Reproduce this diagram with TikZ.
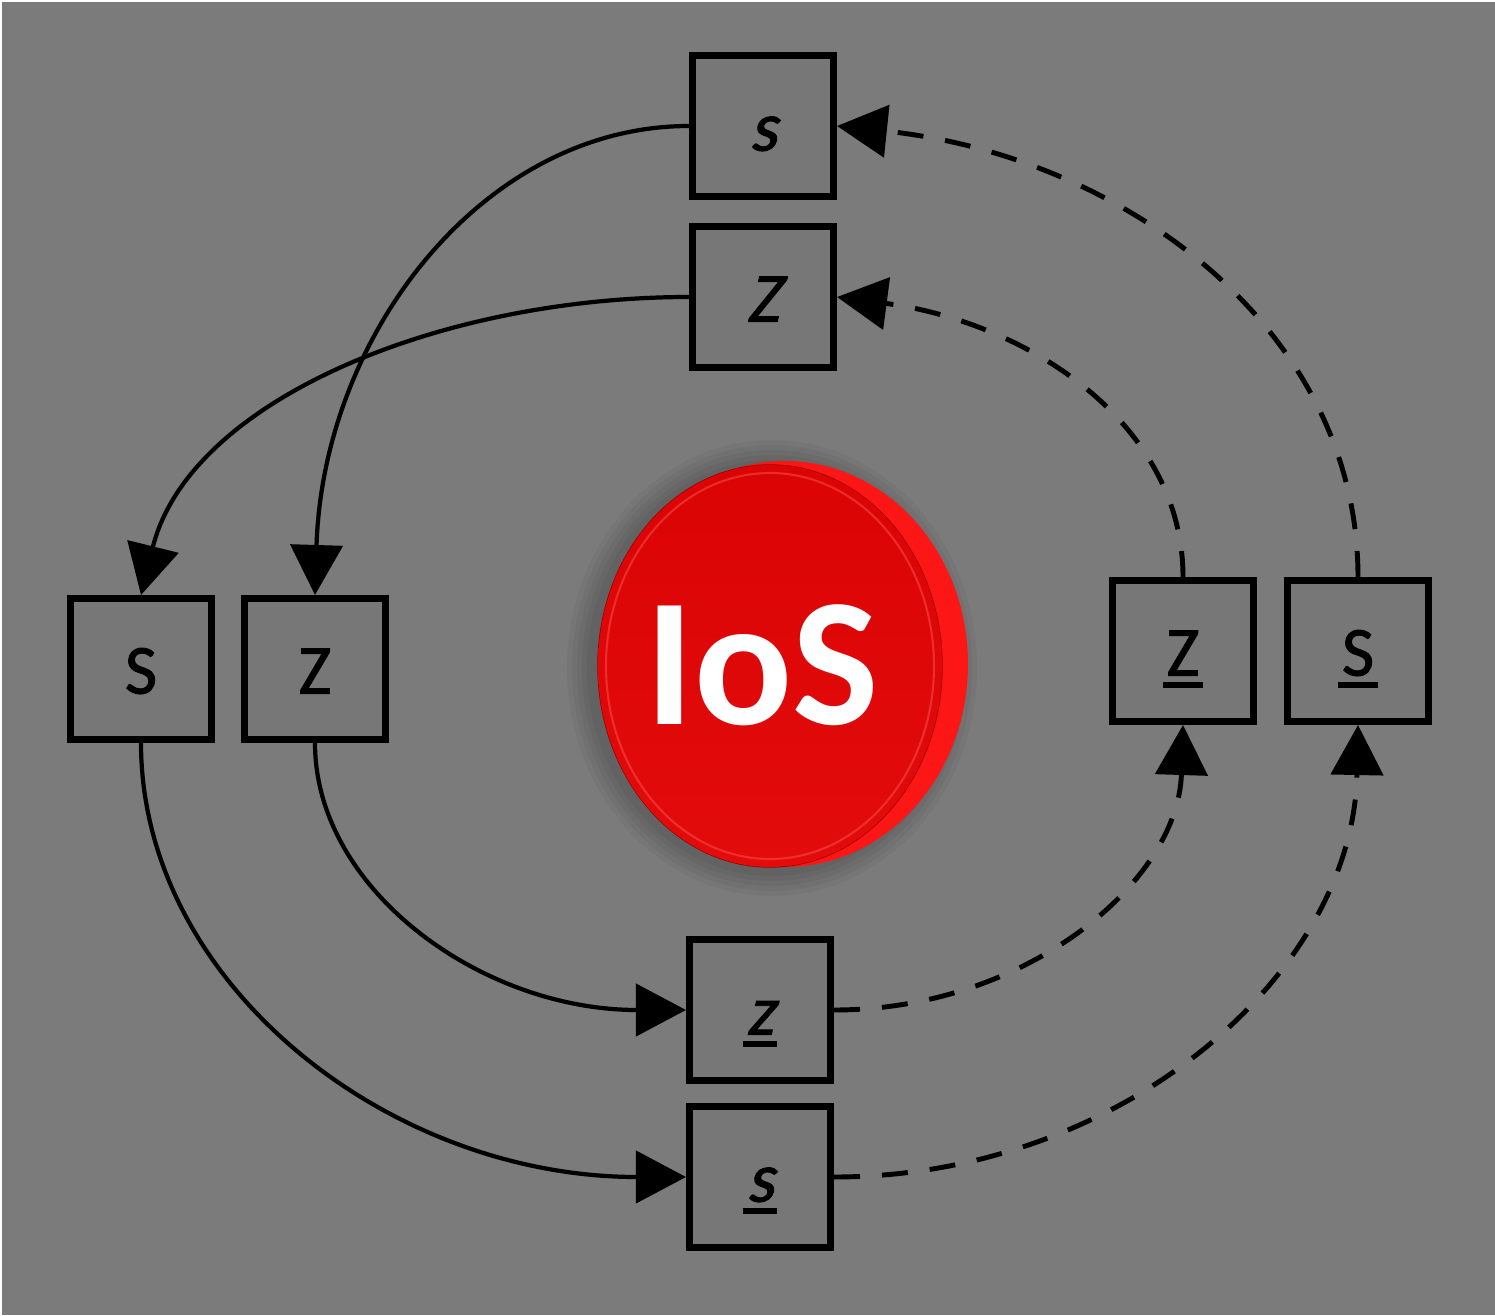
\documentclass[tikz,border=0pt]{standalone}
\usepackage{fontspec}
\setmainfont{Carlito}
\newfontfamily\boxfont{Carlito}[FakeBold=1.3]
\newfontfamily\boxslant{Carlito}[FakeBold=1.3, FakeSlant=0.22]
\usetikzlibrary{arrows.meta}

\definecolor{bggray}{RGB}{123,123,123}
\definecolor{boxgray}{RGB}{119,119,119}
\definecolor{coinface}{RGB}{226,4,4}
\definecolor{coinrim}{RGB}{252,22,22}

% letter with a thick bar under it
\newcommand{\barred}[1]{\setbox0\hbox{#1}\rlap{\kern-1pt\rule[-3.4pt]{\dimexpr\wd0+2pt\relax}{1.7pt}}\box0}

\begin{document}
\begin{tikzpicture}[
    box/.style={draw, line width=2pt, fill=boxgray, minimum width=1.41cm, minimum height=1.41cm,
                inner sep=0pt, text height=14pt, text depth=0pt, font=\fontsize{20}{24}\boxfont},
    fwd/.style={line width=1.2pt, -{Triangle[length=0.5cm, width=0.52cm]}},
    bwd/.style={fwd, line width=1.4pt, dash pattern=on 2.6mm off 2.2mm}]
    \fill[white] (0,0) rectangle (14.95,13.15);
    \fill[bggray] (0.02,0) rectangle (14.95,13.13);
    % soft shadow, rim and face of the coin
    \foreach \r in {0.05,0.10,0.15,0.20,0.25}
        \fill[black, opacity=0.04] (7.72,6.47) ellipse ({1.80+\r} and {2.03+\r});
    \fill[coinrim] (7.85,6.51) ellipse (1.83 and 2.03);
    \draw[red!60!black, line width=0.4pt] (7.70,6.49) ellipse (1.72 and 2.01);
    \shade[top color=coinface!97!black, bottom color=coinface!97!white] (7.70,6.49) ellipse (1.72 and 2.01);
    \draw[red!60!white, opacity=0.4, line width=0.6pt] (7.70,6.49) ellipse (1.64 and 1.93);
    \node[text=white, font=\fontsize{52}{58}\selectfont\bfseries] (ios) at (7.62,6.50) {IoS};
    % the eight boxes
    \node[box] (sTop) at (7.63,11.89) {\boxslant s};
    \node[box] (zTop) at (7.63,10.18) {\boxslant Z};
    \node[box] (sLeft) at (1.41,6.46) {S};
    \node[box] (zLeft) at (3.15,6.46) {Z};
    \node[box] (zRight) at (11.83,6.64) {\barred{Z}};
    \node[box] (sRight) at (13.58,6.64) {\barred{S}};
    \node[box] (zBot) at (7.60,3.05) {\barred{\boxslant z}};
    \node[box] (sBot) at (7.60,1.38) {\barred{\boxslant s}};
    % solid arcs on the left
    \draw[fwd] (sTop.west) .. controls +(-2.06,0) and +(0.08,2.60) .. (zLeft.north);
    \draw[fwd] (zTop.west) .. controls +(-2.50,0) and +(0.48,1.94) .. (sLeft.north);
    \draw[fwd] (sLeft.south) .. controls +(0,-2.39) and +(-2.99,0) .. (sBot.west);
    \draw[fwd] (zLeft.south) .. controls +(0,-1.47) and +(-2.04,0) .. (zBot.west);
    % dashed arcs on the right
    \draw[bwd] (zBot.east) .. controls +(1.92,0) and +(-0.05,-1.57) .. (zRight.south);
    \draw[bwd] (sBot.east) .. controls +(2.88,0) and +(-0.05,-2.49) .. (sRight.south);
    \draw[bwd] (zRight.north) .. controls +(0,1.54) and +(1.90,-0.25) .. (zTop.east);
    \draw[bwd] (sRight.north) .. controls +(0,2.48) and +(2.86,-0.30) .. (sTop.east);
\end{tikzpicture}
\end{document}
